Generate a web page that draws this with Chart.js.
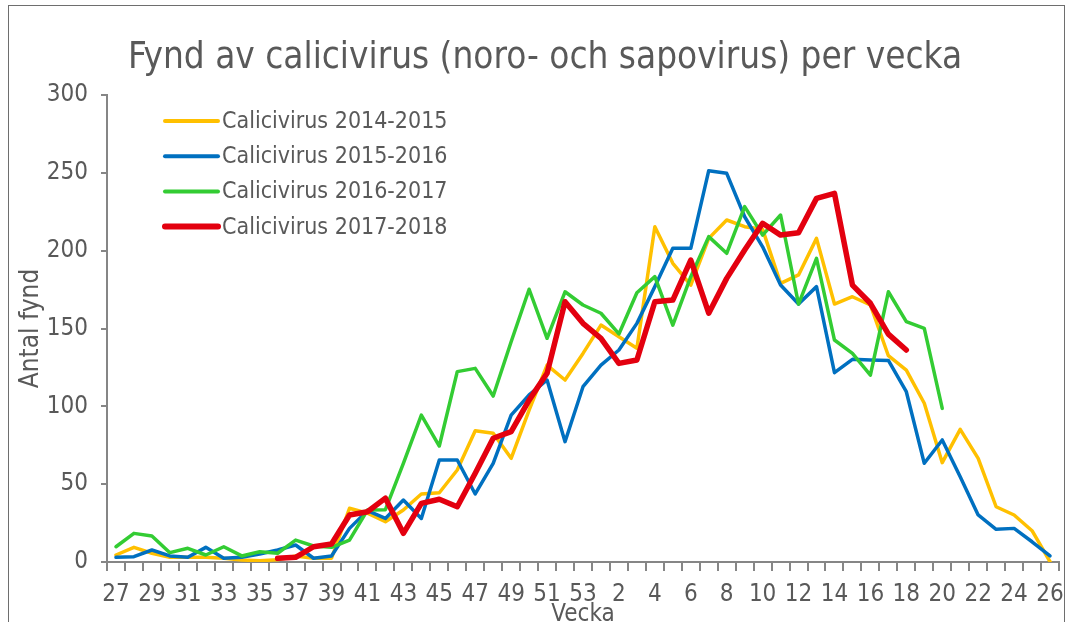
<!DOCTYPE html>
<html><head><meta charset="utf-8">
<script src="https://cdn.jsdelivr.net/npm/chart.js@4/dist/chart.umd.min.js"></script>
<style>
html,body{margin:0;padding:0;background:#fff;}
#wrap{position:relative;width:1070px;height:622px;overflow:hidden;}
#frame{position:absolute;left:8px;top:5px;width:1057px;height:700px;border:1.5px solid #6e6e6e;box-sizing:border-box;pointer-events:none}
canvas{position:absolute;left:0;top:0}
</style></head><body>
<div id="wrap"><canvas id="c" width="1070" height="622"></canvas><div id="frame"></div></div>
<script>
const TITLE = 'Fynd av calicivirus (noro- och sapovirus) per vecka';
const Y_TITLE = 'Antal fynd';
const X_TITLE = 'Vecka';
const weeks = ['27','28','29','30','31','32','33','34','35','36','37','38','39','40','41','42','43','44','45','46','47','48','49','50','51','52','53',
  '1','2','3','4','5','6','7','8','9','10','11','12','13','14','15','16','17','18','19','20','21','22','23','24','25','26'];
const shownTicks = ['27','29','31','33','35','37','39','41','43','45','47','49','51','53','2','4','6','8','10','12','14','16','18','20','22','24','26'];
const yTicks = [0,50,100,150,200,250,300];
const seriesNames = ['Calicivirus 2014-2015','Calicivirus 2015-2016','Calicivirus 2016-2017','Calicivirus 2017-2018'];
const s1415 = [4.5,9.4,5.6,3,3,3,2.4,1.3,0.8,1.5,3.9,2.4,2.4,34.5,31.3,25.9,33.4,43.7,44.5,59.1,84.3,82.7,66.6,97.6,126.5,116.9,134,
  152.2,144.7,137.3,215.4,191.9,177.9,207.9,219.7,215.4,213.7,179,184.4,207.9,165.7,170.4,165.1,132.5,123.3,102,63.8,85.2,66.6,35.5,30.2,20.1,0.2];
const s1516 = [3,3.4,7.7,3.9,3,9.4,2.4,3,5.1,7.7,10.9,2.4,3.9,21.6,33,28,39.8,28,65.5,65.5,43.7,63.4,94.4,107.3,116.9,77.3,112.6,
  126.5,136.2,153.3,176.9,201.5,201.5,251.4,249.7,221.8,202.5,177.9,165.7,176.9,121.6,130.2,129.8,129.5,109.4,63.4,78.4,54.8,30.2,21,21.6,13,3.9];
const s1617 = [9.8,18.4,16.7,6,8.8,4.5,9.8,3.9,6.6,5.6,14.1,10.3,9.4,14.1,33.4,33.6,63.4,94.4,74.5,122.3,124.4,106.6,141.5,175.2,143.7,173.6,165.1,
  159.8,146.5,173,183.3,152.2,183.3,209,198.3,228.3,210,222.9,165.7,195.1,142.6,134,120.1,173.6,154.4,150.1,98.7,null,null,null,null,null,null];
const s1718 = [null,null,null,null,null,null,null,null,null,2.4,3,9.8,11.6,30.2,32.3,41,18.4,37.7,40.3,35.5,57,79.5,83.7,104,121.2,167.2,153.3,
  143.7,127.6,129.8,167.2,168.3,194,159.8,182.2,200.4,217.6,210,211.5,233.6,236.8,177.9,166.2,146.4,136.2,null,null,null,null,null,null,null,null];
const colors = ['#FFC000','#0070C0','#33CC33','#E3000F'];
const widths = [3.5,3.5,3.5,5.5];

const F = '"DejaVu Sans Condensed", "DejaVu Sans", sans-serif';
const TXT = '#595959';
const AX = '#868686';

const overlay = {
  id:'overlay',
  afterDraw(chart){
    const c = chart.ctx;
    c.save();
    c.fillStyle = TXT;
    c.font = '36.6px ' + F;
    c.textAlign = 'center';
    c.textBaseline = 'alphabetic';
    c.fillText(TITLE, 545, 68);
    chart.data.datasets.forEach((d,i)=>{
      const y = 121 + i*35.2;
      c.strokeStyle = d.borderColor;
      c.lineWidth = d.borderWidth + 0.5;
      c.lineCap = 'round';
      c.beginPath(); c.moveTo(165,y); c.lineTo(218,y); c.stroke();
      c.textAlign = 'left';
      c.textBaseline = 'middle';
      c.font = '23px ' + F;
      c.fillStyle = TXT;
      c.fillText(d.label, 222, y+1);
    });
    c.restore();
  }
};

const allSeries = [s1415,s1516,s1617,s1718];
new Chart(document.getElementById('c'), {
  type:'line',
  data:{
    labels:weeks,
    datasets: allSeries.map((s,i)=>({
      label:seriesNames[i], data:s, borderColor:colors[i], backgroundColor:colors[i],
      borderWidth:widths[i], pointRadius:0, tension:0, spanGaps:false,
      borderJoinStyle:'round', borderCapStyle:'round', order:4-i, fill:false
    }))
  },
  options:{
    responsive:false, animation:false, devicePixelRatio:1,
    layout:{padding:{top:95,left:10,right:11,bottom:-7}},
    plugins:{legend:{display:false}, title:{display:false}, tooltip:{enabled:false}},
    scales:{
      x:{
        offset:true,
        grid:{offset:true, drawOnChartArea:false, drawTicks:true, tickLength:9, color:AX, lineWidth:2},
        border:{color:AX, width:2},
        ticks:{autoSkip:false, maxRotation:0, minRotation:0, padding:9, color:TXT, font:{family:F,size:24},
          callback(v,i){ const l = weeks[i]; return shownTicks.includes(l) ? l : ''; }},
        title:{display:true, text:X_TITLE, color:TXT, font:{family:F,size:24}, padding:{top:0,bottom:0}},
        afterFit(s){ s.height = 67; s.paddingLeft = 0; s.paddingRight = 0; }
      },
      y:{
        min:0, max:300,
        afterBuildTicks(s){ s.ticks = yTicks.map(v=>({value:v})); },
        grid:{drawOnChartArea:false, drawTicks:true, tickLength:6, color:AX, lineWidth:2},
        border:{color:AX, width:2},
        ticks:{padding:13, color:TXT, font:{family:F,size:24}},
        title:{display:true, text:Y_TITLE, color:TXT, font:{family:F,size:26}, padding:{top:6,bottom:0}},
        afterFit(s){ s.width = 97; s.paddingTop = 0; s.paddingBottom = 0; }
      }
    }
  },
  plugins:[overlay]
});
</script>
</body></html>
